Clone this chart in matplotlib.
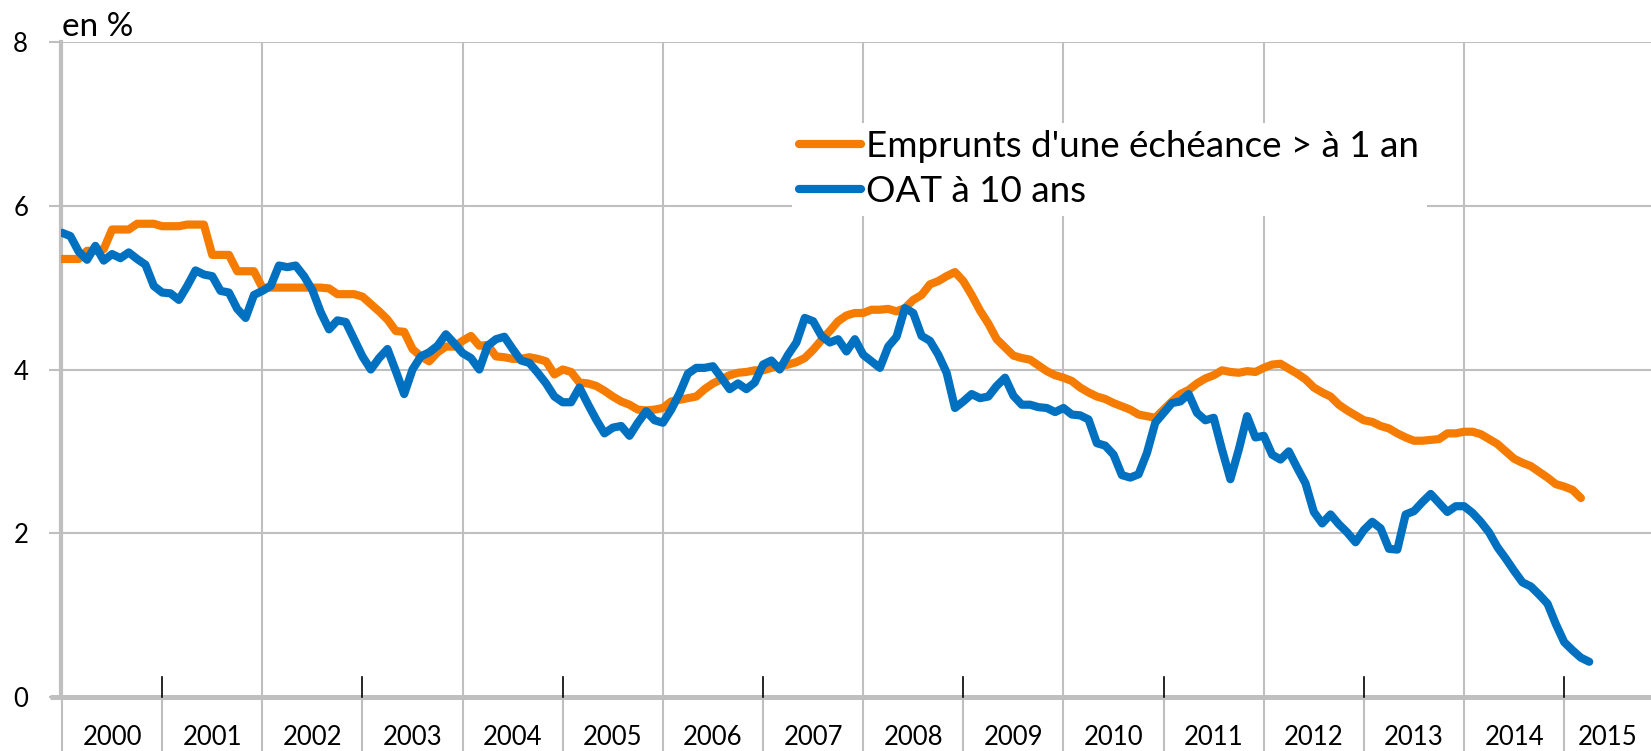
import numpy as np
import matplotlib
matplotlib.use("Agg")
import matplotlib.pyplot as plt
from matplotlib import transforms

plt.rcParams['font.family'] = ['Lato', 'DejaVu Sans']

# données mensuelles, janvier 2000 -> mars / avril 2015 (en %)
annees = list(range(2000, 2016))
emprunts = [
    5.35, 5.35, 5.35, 5.45, 5.45, 5.47, 5.71, 5.71, 5.71, 5.78, 5.78, 5.78,  # 2000
    5.75, 5.75, 5.75, 5.77, 5.77, 5.77, 5.40, 5.40, 5.40, 5.20, 5.20, 5.20,  # 2001
    5.00, 5.00, 5.00, 5.00, 5.00, 5.00, 5.00, 5.00, 4.99, 4.92, 4.92, 4.92,  # 2002
    4.89, 4.80, 4.71, 4.61, 4.47, 4.46, 4.25, 4.16, 4.10, 4.21, 4.28, 4.28,  # 2003
    4.35, 4.41, 4.29, 4.30, 4.16, 4.15, 4.13, 4.13, 4.15, 4.13, 4.10, 3.94,  # 2004
    4.00, 3.97, 3.84, 3.83, 3.80, 3.74, 3.67, 3.61, 3.57, 3.51, 3.50, 3.51,  # 2005
    3.53, 3.61, 3.63, 3.65, 3.67, 3.76, 3.83, 3.88, 3.93, 3.96, 3.97, 3.99,  # 2006
    3.99, 4.02, 4.04, 4.06, 4.09, 4.14, 4.24, 4.36, 4.47, 4.59, 4.66, 4.69,  # 2007
    4.69, 4.73, 4.73, 4.74, 4.71, 4.75, 4.85, 4.91, 5.04, 5.08, 5.14, 5.19,  # 2008
    5.08, 4.91, 4.72, 4.56, 4.37, 4.27, 4.17, 4.14, 4.12, 4.05, 3.98, 3.93,  # 2009
    3.90, 3.86, 3.78, 3.72, 3.67, 3.64, 3.59, 3.55, 3.51, 3.45, 3.43, 3.41,  # 2010
    3.51, 3.61, 3.70, 3.75, 3.83, 3.89, 3.93, 3.99, 3.97, 3.96, 3.98, 3.97,  # 2011
    4.02, 4.06, 4.07, 4.01, 3.95, 3.88, 3.78, 3.72, 3.67, 3.57, 3.50, 3.44,  # 2012
    3.38, 3.36, 3.31, 3.28, 3.22, 3.17, 3.13, 3.13, 3.14, 3.15, 3.22, 3.22,  # 2013
    3.24, 3.24, 3.21, 3.15, 3.09, 3.00, 2.91, 2.86, 2.82, 2.75, 2.68, 2.60,  # 2014
    2.57, 2.53, 2.43,                                                        # 2015
]
oat = [
    5.67, 5.63, 5.44, 5.34, 5.51, 5.33, 5.41, 5.36, 5.43, 5.35, 5.28, 5.02,
    4.94, 4.93, 4.85, 5.02, 5.21, 5.16, 5.14, 4.96, 4.94, 4.74, 4.63, 4.91,
    4.96, 5.02, 5.27, 5.25, 5.27, 5.14, 4.97, 4.70, 4.49, 4.60, 4.58, 4.37,
    4.16, 4.00, 4.14, 4.25, 3.98, 3.70, 4.00, 4.16, 4.21, 4.29, 4.43, 4.32,
    4.20, 4.14, 4.00, 4.29, 4.37, 4.40, 4.25, 4.11, 4.08, 3.96, 3.83, 3.67,
    3.60, 3.60, 3.78, 3.58, 3.39, 3.22, 3.29, 3.31, 3.19, 3.35, 3.49, 3.38,
    3.35, 3.51, 3.71, 3.95, 4.02, 4.02, 4.04, 3.90, 3.76, 3.83, 3.76, 3.84,
    4.06, 4.11, 4.00, 4.18, 4.33, 4.63, 4.59, 4.41, 4.33, 4.37, 4.22, 4.37,
    4.18, 4.10, 4.02, 4.28, 4.40, 4.75, 4.69, 4.41, 4.35, 4.18, 3.96, 3.53,
    3.61, 3.70, 3.65, 3.67, 3.80, 3.90, 3.68, 3.57, 3.57, 3.54, 3.53, 3.48,
    3.53, 3.45, 3.44, 3.39, 3.10, 3.07, 2.96, 2.71, 2.68, 2.72, 2.98, 3.35,
    3.47, 3.59, 3.61, 3.70, 3.47, 3.38, 3.41, 3.02, 2.66, 3.02, 3.43, 3.17,
    3.19, 2.96, 2.90, 3.00, 2.80, 2.61, 2.26, 2.12, 2.23, 2.11, 2.01, 1.89,
    2.04, 2.14, 2.06, 1.81, 1.80, 2.23, 2.27, 2.38, 2.48, 2.37, 2.26, 2.33,
    2.33, 2.25, 2.14, 2.01, 1.83, 1.69, 1.54, 1.40, 1.35, 1.25, 1.14, 0.89,
    0.67, 0.57, 0.48, 0.43,
]
nom_emprunts = "Emprunts d'une échéance > à 1 an"
nom_oat = "OAT à 10 ans"

orange = '#F57C00'
bleu = '#0070C0'
gris = '#BFBFBF'

W, H = 1651, 751
fig = plt.figure(figsize=(W / 100, H / 100), dpi=100)
x0, y0, y8 = 61, 697, 42
ax = fig.add_axes([x0 / W, (H - y0) / H, (W - x0) / W, (y0 - y8) / H])
ax.set_ylim(0, 8)
ax.set_xlim(-0.12, 190.4)

ax.plot(np.arange(len(emprunts)), emprunts, color=orange, lw=5.9,
        solid_capstyle='round', solid_joinstyle='round', label=nom_emprunts, zorder=4)
ax.plot(np.arange(len(oat)), oat, color=bleu, lw=5.9,
        solid_capstyle='round', solid_joinstyle='round', label=nom_oat, zorder=5)

# grille
for v in [2, 4, 6, 8]:
    ax.axhline(v, color=gris, lw=1.5, zorder=1)
for a in annees[2::2]:
    ax.axvline((a - 2000) * 12, color=gris, lw=1.5, zorder=1)

for s in ['top', 'right', 'bottom']:
    ax.spines[s].set_visible(False)
ax.spines['left'].set_color(gris)
ax.spines['left'].set_linewidth(3)
ax.spines['left'].set_zorder(3)

ax.set_yticks([0, 2, 4, 6, 8])
ax.set_yticklabels(['0', '2', '4', '6', '8'])
ax.tick_params(axis='y', length=8.6, width=1.5, color=gris, pad=15, labelsize=18.5)
ax.set_xticks([])

blend = transforms.blended_transform_factory(ax.transData, ax.transAxes)
hpx = (y0 - y8)  # hauteur des axes en pixels
# axe horizontal
ax.plot([-11 / (W - x0), 1], [0, 0], transform=ax.transAxes, color=gris, lw=3.6,
        clip_on=False, zorder=3, solid_capstyle='butt')
# séparateurs des années sous l'axe et petits repères
for a in annees:
    m = (a - 2000) * 12
    ax.plot([m, m], [0, -(H - y0) / hpx], transform=blend, color=gris, lw=1.5, clip_on=False)
    if a % 2 == 1:
        ax.plot([m, m], [0, 20 / hpx], transform=blend, color='black', lw=1.2, clip_on=False, zorder=3)

# étiquettes des années
lab = transforms.blended_transform_factory(ax.transData, fig.transFigure)
for a in annees:
    m = (a - 2000) * 12
    fin = min(m + 12, ax.get_xlim()[1])
    fig.text(0, (H - 737.5) / H, str(a), transform=lab, fontsize=18.5,
             ha='center', va='center').set_x((m + fin) / 2)

fig.text(62 / W, (H - 36) / H, 'en %', fontsize=24, va='baseline', ha='left')

ax.legend(loc='upper left', bbox_to_anchor=(792 / W, (H - 123) / H),
          bbox_transform=fig.transFigure, fontsize=26.5, frameon=True, fancybox=False,
          edgecolor='none', facecolor='white', framealpha=1, handlelength=1.68,
          handletextpad=0.14, labelspacing=0.32, borderpad=0.2, borderaxespad=0)

fig.savefig('out.png', dpi=100)
